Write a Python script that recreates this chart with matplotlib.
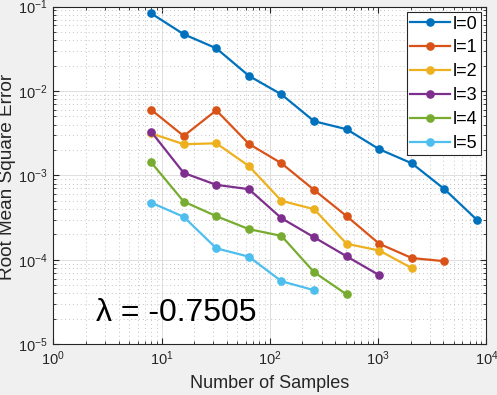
import matplotlib.pyplot as plt
from matplotlib.ticker import LogLocator, NullFormatter

plt.rcParams["font.family"] = ["Liberation Sans", "DejaVu Sans"]
plt.rcParams["mathtext.fontset"] = "custom"
plt.rcParams["mathtext.rm"] = "Liberation Sans"
plt.rcParams["mathtext.it"] = "Liberation Sans:italic"
plt.rcParams["mathtext.bf"] = "Liberation Sans:bold"

samples = [8, 16, 32, 64, 128, 256, 512, 1024, 2048, 4096, 8192]
rmse_l0 = [0.083, 0.047, 0.032, 0.0151, 0.0091, 0.00438, 0.00352, 0.00204, 0.00139, 0.000687, 0.000297]
rmse_l1 = [0.0060, 0.00293, 0.0059, 0.00236, 0.00139, 0.000673, 0.000329, 0.000155, 0.000105, 0.0000964]
rmse_l2 = [0.00315, 0.00234, 0.00240, 0.00129, 0.00050, 0.000398, 0.000155, 0.000129, 0.0000797]
rmse_l3 = [0.00330, 0.00107, 0.000773, 0.000687, 0.000311, 0.000185, 0.000110, 0.0000658]
rmse_l4 = [0.00143, 0.00049, 0.000329, 0.000231, 0.000192, 0.0000715, 0.0000389]
rmse_l5 = [0.000476, 0.000323, 0.000137, 0.000109, 0.0000558, 0.0000437]
series = [rmse_l0, rmse_l1, rmse_l2, rmse_l3, rmse_l4, rmse_l5]
labels = ["l=0", "l=1", "l=2", "l=3", "l=4", "l=5"]
colors = ["#0072BD", "#D95319", "#EDB120", "#7E2F8E", "#77AC30", "#4DBEEE"]
slope_text = "λ = -0.7505"

fig = plt.figure(figsize=(4.97, 3.95), dpi=100, facecolor="#f0f0f0")
ax = fig.add_axes([0.1073, 0.1284, 0.8714, 0.8551])
ax.set_facecolor("white")

for vals, lab, col in zip(series, labels, colors):
    ax.loglog(samples[:len(vals)], vals, "-o", color=col, lw=1.6, ms=5.2, label=lab)

ax.set_xlim(1, 1e4)
ax.set_ylim(1e-5, 1e-1)
ax.xaxis.set_major_locator(LogLocator(base=10, numticks=10))
ax.yaxis.set_major_locator(LogLocator(base=10, numticks=10))
ax.xaxis.set_minor_locator(LogLocator(base=10, subs=range(2, 10), numticks=20))
ax.yaxis.set_minor_locator(LogLocator(base=10, subs=range(2, 10), numticks=20))
ax.xaxis.set_minor_formatter(NullFormatter())
ax.yaxis.set_minor_formatter(NullFormatter())

ax.grid(True, which="major", color="#dedede", lw=0.7, ls="-")
ax.grid(True, which="minor", color="#c4c4c4", lw=0.7, ls=(0, (1, 3)))
ax.set_axisbelow(True)
ax.tick_params(which="both", direction="in", top=True, right=True,
               colors="#262626", labelcolor="#262626", labelsize=10.5)
ax.tick_params(which="major", length=4, pad=4)
ax.tick_params(which="minor", length=2)
for sp in ax.spines.values():
    sp.set_color("#262626")
    sp.set_linewidth(0.8)

ax.set_xlabel("Number of Samples", fontsize=13, color="#262626", labelpad=5)
ax.set_ylabel("Root Mean Square Error", fontsize=13.7, color="#262626", va="center")
ax.yaxis.set_label_coords(-0.105, 0.497)

ax.text(2.5, 2.35e-5, slope_text, fontsize=23, va="center", ha="left", color="black")

leg = ax.legend(loc="upper right", fontsize=13, frameon=True, fancybox=False,
                edgecolor="#262626", framealpha=1, handlelength=2.2,
                handletextpad=0.15, borderpad=0.2, borderaxespad=0.3,
                labelspacing=0.38)
leg.get_frame().set_linewidth(0.8)

fig.savefig("out.png", dpi=100, facecolor=fig.get_facecolor())
